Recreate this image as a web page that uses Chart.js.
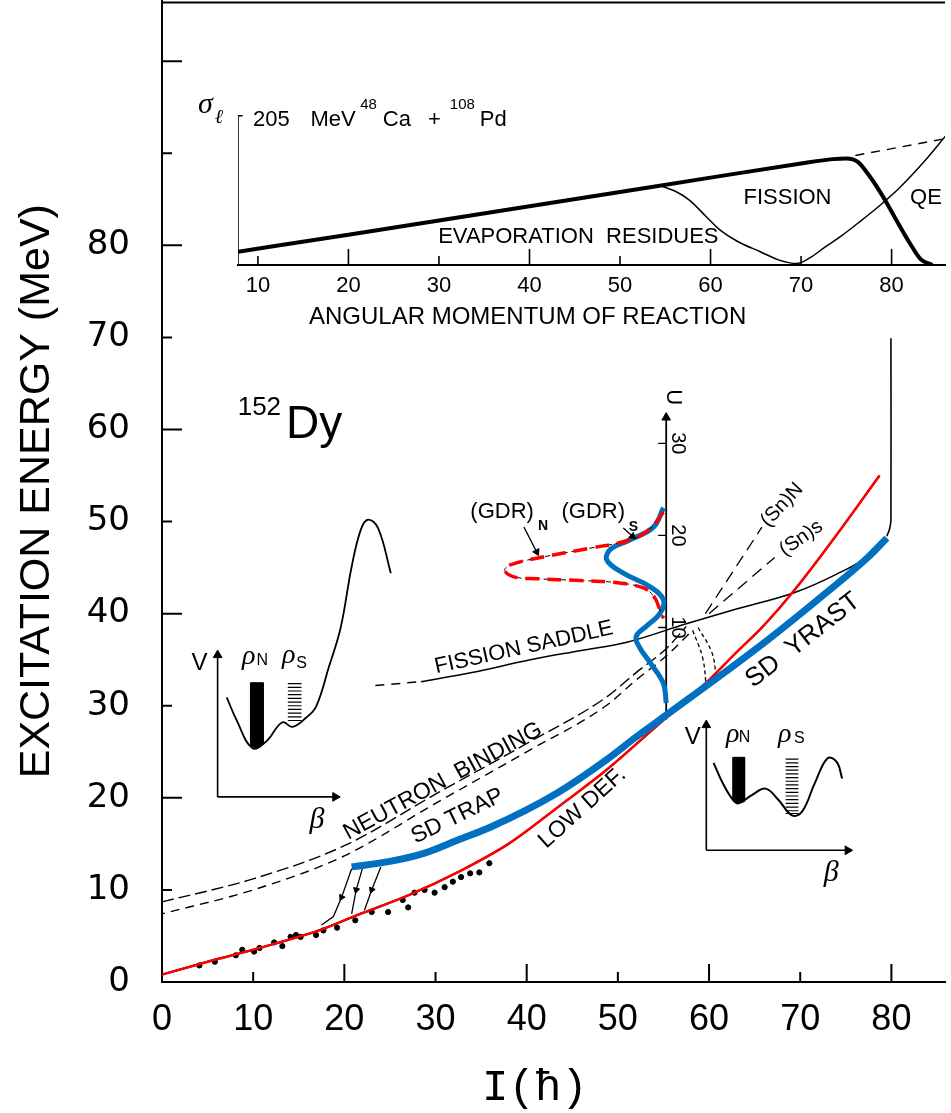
<!DOCTYPE html>
<html>
<head>
<meta charset="utf-8">
<script src="https://cdn.jsdelivr.net/npm/chart.js@4.4.1/dist/chart.umd.min.js"></script>
<style>
html, body { margin: 0; padding: 0; background: #fff; }
#wrap { position: relative; width: 951px; height: 1113px; overflow: hidden; background: #fff; }
#wrap canvas { position: absolute; left: 0; top: 0; }
/* the y scale keeps a small strip above its plot area; push it out of view */
#wrap canvas#main { top: -20px; }
</style>
</head>
<body>
<div id="wrap">
  <canvas id="main" width="951" height="1133"></canvas>
  <canvas id="inset" width="951" height="1113"></canvas>
</div>
<script>
const SANS = "'Liberation Sans', Arial, sans-serif";
const ROUND = "'DejaVu Sans', sans-serif";
const SERIF = "'Liberation Serif', 'DejaVu Serif', serif";
const MONO = "'Liberation Mono', 'DejaVu Sans Mono', monospace";
const BLUE = '#0070c0';
const RED = '#ff0000';

// ---- main panel: excitation energy vs spin ----
const xTicks = [0, 10, 20, 30, 40, 50, 60, 70, 80];
const yTicks = [0, 10, 20, 30, 40, 50, 60, 70, 80];
const yInnerTicks = [0, 10, 20, 30, 40, 50, 60, 70, 80, 90, 100];

const lowDefYrast = [[0,0.8],[5,2.2],[10.7,3.7],[17.2,5.6],[21.5,7.3],[27,9.4],[32.4,11.9],[38,15.0],[43.3,18.9],[48.7,23.0],[53,26.7],[55.3,28.7],[58,31.0],[60,32.8],[63,35.8],[65.8,38.5],[69.4,42.6],[73.8,48.3],[78.7,55.0]];
const sdYrast = [[20.8,12.5],[25,13.1],[28.8,14.0],[32.4,15.4],[36,16.8],[43.3,20.5],[48.7,24.1],[52,26.6],[55.6,29.2],[61,33.1],[66.5,37.2],[71.9,41.5],[77.4,46.1],[79.5,48.2]];
const saddleDashed = [[23.4,32.2],[28.2,32.6]];
const saddleSolid = [[28.4,32.6],[34,33.6],[40.4,35.0],[46,36.0],[51,36.9],[57.5,38.9],[63,40.5],[69.4,42.3],[74,44.3],[77.4,46.2],[79.5,48.2]];
const neutronUpper = [[0,8.7],[10,11.2],[20,14.8],[30,20.4],[40,25.9],[48.7,30.9],[52,33.6],[55.3,36.2],[57.5,38.6]];
const neutronLower = [[0,7.4],[10,10.0],[20,13.7],[30,19.4],[40,25.0],[48.7,30.0],[52,32.8],[55.3,35.4],[57.8,37.8]];
const snNormal = [[59.6,40.0],[65.8,49.4]];
const snSuper = [[60.0,40.0],[67.2,46.1]];
const barrierHatchA = [[58.2,38.2],[59.3,35.2],[59.7,32.0]];
const barrierHatchB = [[58.8,38.5],[60.3,35.8],[60.8,33.2]];
const wall80 = [[79.95,69.9],[79.95,50.2],[79.8,49.2],[79.5,48.4]];
const gdrSuper = [[55.0,51.5],[53.9,49.4],[51.3,48.0],[49.2,47.0],[48.8,45.8],[50.6,44.4],[53.4,43.0],[55.0,41.5],[54.6,40.0],[53.2,38.7],[52.0,37.5],[52.4,36.3],[53.6,34.6],[55.0,32.4],[55.3,30.3]];
const gdrNormal = [[55.0,51.0],[53.4,49.1],[51.3,48.0],[46.9,47.1],[41.5,46.1],[38.2,45.3],[37.6,44.7],[38.6,44.0],[41.1,43.8],[45.8,43.6],[49.5,43.4],[52.8,42.8],[54.0,41.8],[54.5,40.7],[55.0,39.5]];
const gdrNPointer = [[39.7,49.4],[41.1,46.7]];
const gdrSPointer = [[50.6,49.3],[51.6,48.4]];
const uAxisLine = [[55.3,28.5],[55.3,61.3]];
const uTicks = [10, 20, 30];
const uZero = 28.5;
const cascadeA = [[20.8,12.3],[19.7,9.2],[18.8,7.1],[17.5,6.2]];
const cascadeB = [[22.0,12.4],[21.3,10.0],[20.8,7.4]];
const cascadeC = [[24.0,12.5],[23.0,10.0],[22.2,7.8]];
const yrastDots = [[4.1,1.8],[5.8,2.2],[8.1,2.9],[8.8,3.5],[10.1,3.3],[10.7,3.7],[12.3,4.3],[13.2,3.9],[14.1,4.9],[14.7,5.1],[15.2,4.9],[16.9,5.1],[17.7,5.6],[19.2,5.9],[21.2,6.7],[23.0,7.6],[24.8,7.6],[27.0,8.1],[26.4,8.9],[27.7,9.7],[28.8,10.0],[29.9,9.7],[31.0,10.3],[31.9,10.9],[32.8,11.4],[33.8,11.8],[34.8,11.9],[35.9,12.9]];

// potential-well sketches
const leftWell = [[7.1,30.9],[8.2,28.4],[9.9,25.4],[11.4,26.1],[13.2,28.2],[14.3,27.7],[15.8,28.7],[16.9,29.9],[18.3,34.2],[19.6,38.5],[20.8,45.1],[21.8,49.1],[22.6,50.2],[23.7,49.3],[25.1,44.4]];
const leftVAxis = [[6.1,20.1],[6.1,35.5]];
const leftBetaAxis = [[6.1,20.1],[19.0,20.1]];
const leftNBar = [[9.7,32.5],[11.1,32.5],[11.1,25.9],[10.4,25.4],[9.7,25.6],[9.7,32.5]];
const leftSLevels = [32.4,32.0,31.6,31.2,30.8,30.4,30.0,29.6,29.2,28.8,28.4];
const rightWell = [[60.5,23.8],[61.5,21.6],[62.6,19.8],[63.2,19.4],[64.7,20.3],[66.2,21.0],[67.6,19.8],[69.1,18.1],[70.2,18.5],[71.6,21.6],[73.0,24.3],[74.0,23.9],[74.6,22.1]];
const rightVAxis = [[59.7,14.3],[59.7,27.9]];
const rightBetaAxis = [[59.7,14.3],[75.2,14.3]];
const rightNBar = [[62.6,24.4],[63.9,24.4],[63.9,19.6],[63.2,19.4],[62.6,19.8],[62.6,24.4]];
const rightSLevels = [24.2,23.8,23.4,23.0,22.6,22.2,21.8,21.4,21.0,20.6,20.2,19.8,19.4,19.0,18.6,18.3];

// ---- top panel: partial cross sections vs l ----
const insetTicks = [10, 20, 30, 40, 50, 60, 70, 80];
const residues = [[7.8,0.9],[20,2.06],[30,3.03],[40,4.0],[50,4.97],[60,5.94],[70,6.9],[73.5,7.2],[75,7.25],[76.3,7.0],[77.5,6.1],[79,4.7],[80.3,3.3],[82,1.5],[83.2,0.4],[84.5,0.0]];
const fission = [[54.4,5.4],[56,5.05],[57.7,4.4],[59.5,3.3],[61,2.4],[63,1.6],[65.5,0.9],[67.5,0.35],[69.5,0.1],[71,0.5],[72.6,1.2],[74.5,2.0],[76.5,2.95],[78.8,4.1],[80.8,5.2],[83.7,7.1],[86,8.8]];
const residueTail = [[76,7.45],[86,8.6]];
const sigmaAxis = [[7.8,0],[7.8,10.3]];

const pts = a => a.map(p => ({x: p[0], y: p[1]}));

function line(data, color, width, extra) {
  return Object.assign({
    data: pts(data), showLine: true, borderColor: color, borderWidth: width,
    pointRadius: 0, tension: 0.4, fill: false
  }, extra || {});
}

function arrow(data, color, width, rot, at, size) {
  const n = at === undefined ? data.length - 1 : at;
  const r = size || 5;
  return line(data, color, width, {
    tension: 0, pointStyle: 'triangle', rotation: rot,
    pointRadius: c => c.dataIndex === n ? r : 0,
    pointBackgroundColor: color, pointBorderColor: color, pointBorderWidth: 1
  });
}

function hatch(levels, x0, x1) {
  const out = [];
  levels.forEach(v => out.push({x: x0, y: v}, {x: x1, y: v}, {x: null, y: null}));
  return {data: out, showLine: true, borderColor: '#000', borderWidth: 1.2, pointRadius: 0, tension: 0, spanGaps: false};
}

function shape(data) {
  return line(data, '#000', 1, {tension: 0, fill: 'shape', backgroundColor: '#000'});
}

const mono = {cubicInterpolationMode: 'monotone'};

const mainSets = [
  arrow(gdrNPointer, '#000', 1.3, 153, undefined, 4),
  arrow(gdrSPointer, '#000', 1.3, 132, undefined, 4),
  line(gdrNormal, RED, 3.5, {borderDash: [14, 8]}),
  line(gdrNormal, '#000', 1, {borderDash: [5, 4]}),
  line(gdrSuper, BLUE, 5),
  line(sdYrast, BLUE, 7, mono),
  line(lowDefYrast, RED, 2.4, mono),
  line(lowDefYrast, '#000', 2, mono),
  arrow(uAxisLine, '#000', 1.8, 0),
  line(saddleDashed, '#000', 1.5, {borderDash: [9, 7], tension: 0}),
  line(saddleSolid, '#000', 1.5, mono),
  line(neutronUpper, '#000', 1.4, Object.assign({borderDash: [12, 5]}, mono)),
  line(neutronLower, '#000', 1.4, Object.assign({borderDash: [9, 6], borderDashOffset: 6}, mono)),
  line(snNormal, '#000', 1.3, {borderDash: [12, 7], tension: 0}),
  line(snSuper, '#000', 1.3, {borderDash: [12, 7], tension: 0}),
  line(barrierHatchA, '#000', 1.3, {borderDash: [4, 3]}),
  line(barrierHatchB, '#000', 1.3, {borderDash: [4, 3]}),
  line(wall80, '#000', 1.6, {tension: 0.2}),
  arrow(cascadeA, '#000', 1.3, 208, 1, 3.5),
  arrow(cascadeB, '#000', 1.3, 193, 1, 3.5),
  arrow(cascadeC, '#000', 1.3, 201, 1, 3.5),
  {data: pts(yrastDots), showLine: false, pointRadius: 2.6, backgroundColor: '#000', borderColor: '#000'},
  line(leftWell, '#000', 1.8),
  arrow(leftVAxis, '#000', 1.6, 0),
  arrow(leftBetaAxis, '#000', 1.6, 90),
  shape(leftNBar),
  hatch(leftSLevels, 13.8, 15.3),
  line(rightWell, '#000', 2),
  arrow(rightVAxis, '#000', 1.6, 0),
  arrow(rightBetaAxis, '#000', 1.6, 90),
  shape(rightNBar),
  hatch(rightSLevels, 68.4, 69.8)
];

const mainNotes = [
  {t: '152', x: 8.3, y: 61.6, size: 26, align: 'left', base: 'alphabetic'},
  {t: 'Dy', x: 13.6, y: 59.1, size: 46, align: 'left', base: 'alphabetic'},
  {t: 'FISSION SADDLE', x: 39.7, y: 36.3, size: 22, rot: -12.5},
  {t: 'NEUTRON  BINDING', x: 30.8, y: 21.8, size: 23, rot: -28.5},
  {t: 'SD TRAP', x: 32.4, y: 18.0, size: 23, rot: -26},
  {t: 'LOW DEF.', x: 46.1, y: 18.9, size: 23, rot: -42},
  {t: 'SD  YRAST', x: 70.3, y: 37.1, size: 26, rot: -38},
  {t: '(Sn)N', x: 68.0, y: 51.8, size: 20, rot: -47},
  {t: '(Sn)s', x: 70.1, y: 48.2, size: 20, rot: -35},
  {t: '(GDR)', x: 37.3, y: 51.1, size: 22},
  {t: 'N', x: 41.8, y: 49.5, size: 14, style: 'bold'},
  {t: '(GDR)', x: 47.3, y: 51.1, size: 22},
  {t: 'S', x: 51.7, y: 49.4, size: 14, style: 'bold'},
  {t: 'U', x: 56.0, y: 63.5, size: 22, rot: 90},
  {t: 'V', x: 4.1, y: 34.6, size: 24},
  {t: 'ρ', x: 9.5, y: 35.3, size: 28, style: 'italic', family: SERIF},
  {t: 'N', x: 11.0, y: 34.9, size: 16},
  {t: 'ρ', x: 13.9, y: 35.4, size: 28, style: 'italic', family: SERIF},
  {t: 'S', x: 15.3, y: 34.6, size: 16},
  {t: 'β', x: 17.0, y: 17.6, size: 30, style: 'italic', family: SERIF},
  {t: 'V', x: 58.2, y: 26.6, size: 24},
  {t: 'ρ', x: 62.6, y: 26.9, size: 28, style: 'italic', family: SERIF},
  {t: 'N', x: 63.9, y: 26.5, size: 16},
  {t: 'ρ', x: 68.3, y: 26.9, size: 28, style: 'italic', family: SERIF},
  {t: 'S', x: 69.9, y: 26.4, size: 16},
  {t: 'β', x: 73.4, y: 11.8, size: 30, style: 'italic', family: SERIF},
  {t: 'I(ħ)', x: 40.9, y: -11.5, size: 44, family: MONO}
];
uTicks.forEach(u => mainNotes.push({t: String(u), x: 56.5, y: uZero + u, size: 20, rot: 90}));

const insetNotes = [
  {t: 'EVAPORATION  RESIDUES', x: 45.4, y: 1.9, size: 22},
  {t: 'FISSION', x: 68.5, y: 4.56, size: 22},
  {t: 'QE', x: 83.8, y: 4.56, size: 22},
  {t: 'ANGULAR MOMENTUM OF REACTION', x: 39.8, y: -3.54, size: 24},
  {t: 'σ', x: 4.2, y: 10.9, size: 30, style: 'italic', family: SERIF},
  {t: 'ℓ', x: 5.7, y: 10.0, size: 20, style: 'italic', family: SERIF},
  {t: '205', x: 9.45, y: 9.86, size: 22, align: 'left'},
  {t: 'MeV', x: 15.8, y: 9.86, size: 22, align: 'left'},
  {t: '48', x: 21.3, y: 10.9, size: 15, align: 'left'},
  {t: 'Ca', x: 23.8, y: 9.86, size: 22, align: 'left'},
  {t: '+', x: 28.8, y: 9.86, size: 22, align: 'left'},
  {t: '108', x: 31.2, y: 10.9, size: 15, align: 'left'},
  {t: 'Pd', x: 34.5, y: 9.86, size: 22, align: 'left'}
];

function notesPlugin(id, notes) {
  return {
    id: id,
    afterDatasetsDraw(chart) {
      const ctx = chart.ctx, sx = chart.scales.x, sy = chart.scales.y;
      notes.forEach(n => {
        ctx.save();
        ctx.translate(sx.getPixelForValue(n.x), sy.getPixelForValue(n.y));
        if (n.rot) ctx.rotate(n.rot * Math.PI / 180);
        ctx.font = (n.style || '') + ' ' + n.size + 'px ' + (n.family || SANS);
        ctx.textAlign = n.align || 'center';
        ctx.textBaseline = n.base || 'middle';
        ctx.fillStyle = '#000';
        ctx.fillText(n.t, 0, 0);
        ctx.restore();
      });
    }
  };
}

// inward tick marks, top frame line and the small U scale
const mainFrame = {
  id: 'mainFrame',
  afterDraw(chart) {
    const {ctx, chartArea: a, scales: {x, y}} = chart;
    ctx.save();
    ctx.strokeStyle = '#000';
    ctx.lineWidth = 2;
    ctx.beginPath();
    ctx.moveTo(a.left, a.top + 2);
    ctx.lineTo(a.right, a.top + 2);
    yInnerTicks.forEach(v => {
      const py = y.getPixelForValue(v);
      ctx.moveTo(a.left, py);
      ctx.lineTo(a.left + (v % 20 === 0 ? 20 : 10), py);
    });
    xTicks.forEach(v => {
      if (!v) return;
      const px = x.getPixelForValue(v);
      ctx.moveTo(px, a.bottom);
      ctx.lineTo(px, a.bottom - (v % 20 === 0 ? 18 : 10));
    });
    ctx.stroke();
    ctx.lineWidth = 1.3;
    ctx.beginPath();
    const ux = x.getPixelForValue(uAxisLine[0][0]);
    uTicks.forEach(u => {
      const py = y.getPixelForValue(uZero + u);
      ctx.moveTo(ux - 8, py);
      ctx.lineTo(ux, py);
    });
    ctx.stroke();
    ctx.restore();
  }
};

const insetFrame = {
  id: 'insetFrame',
  afterDraw(chart) {
    const {ctx, chartArea: a, scales: {x}} = chart;
    ctx.save();
    ctx.strokeStyle = '#000';
    ctx.lineWidth = 1.6;
    ctx.beginPath();
    insetTicks.forEach(v => {
      const px = x.getPixelForValue(v);
      ctx.moveTo(px, a.bottom);
      ctx.lineTo(px, a.bottom - (v % 20 === 0 ? 16 : 9));
    });
    ctx.stroke();
    ctx.restore();
  }
};

Chart.defaults.color = '#000';
Chart.defaults.font.family = SANS;

new Chart(document.getElementById('main'), {
  type: 'scatter',
  data: {datasets: mainSets},
  options: {
    responsive: false,
    animation: false,
    devicePixelRatio: 1,
    plugins: {legend: {display: false}, tooltip: {enabled: false}},
    scales: {
      x: {
        type: 'linear', bounds: 'data', min: 0, max: 85.88,
        afterBuildTicks: s => { s.ticks = xTicks.map(v => ({value: v})); },
        afterFit: s => { s.height = 131; },
        grid: {display: false, drawTicks: true, tickLength: 14},
        border: {display: true, color: '#000', width: 2},
        ticks: {padding: 2, autoSkip: false, maxRotation: 0, color: '#000', font: {family: SANS, size: 36}}
      },
      y: {
        type: 'linear', bounds: 'data', min: 0, max: 106.6,
        afterBuildTicks: s => { s.ticks = yTicks.map(v => ({value: v})).concat([{value: 106.6}]); },
        afterFit: s => { s.width = 162; },
        grid: {display: false, drawTicks: true, tickLength: 32},
        border: {display: true, color: '#000', width: 2},
        ticks: {padding: 0, autoSkip: false, color: '#000', font: {family: ROUND, size: 34},
          callback: v => (v <= 80 ? String(v) : null)},
        title: {display: true, text: 'EXCITATION ENERGY (MeV)', color: '#000',
          font: {family: SANS, size: 43}, padding: {top: 11, bottom: 0}}
      }
    }
  },
  plugins: [mainFrame, notesPlugin('mainNotes', mainNotes)]
});

new Chart(document.getElementById('inset'), {
  type: 'scatter',
  data: {
    datasets: [
      line(residues, '#000', 4, mono),
      line(fission, '#000', 1.5, mono),
      line(residueTail, '#000', 1.4, {borderDash: [9, 7], tension: 0}),
      arrow(sigmaAxis, '#000', 1.6, 0)
    ]
  },
  options: {
    responsive: false,
    animation: false,
    devicePixelRatio: 1,
    layout: {padding: {left: 238, top: 115, right: 0, bottom: 808}},
    plugins: {legend: {display: false}, tooltip: {enabled: false}},
    scales: {
      x: {
        type: 'linear', bounds: 'data', min: 7.8, max: 85.9,
        afterBuildTicks: s => { s.ticks = insetTicks.map(v => ({value: v})); },
        afterFit: s => { s.height = 40; },
        grid: {display: false, drawTicks: true, tickLength: 6},
        border: {display: true, color: '#000', width: 2},
        ticks: {padding: 2, autoSkip: false, maxRotation: 0, color: '#000', font: {family: SANS, size: 22}}
      },
      y: {type: 'linear', bounds: 'data', min: 0, max: 10.2, display: false}
    }
  },
  plugins: [insetFrame, notesPlugin('insetNotes', insetNotes)]
});
</script>
</body>
</html>
